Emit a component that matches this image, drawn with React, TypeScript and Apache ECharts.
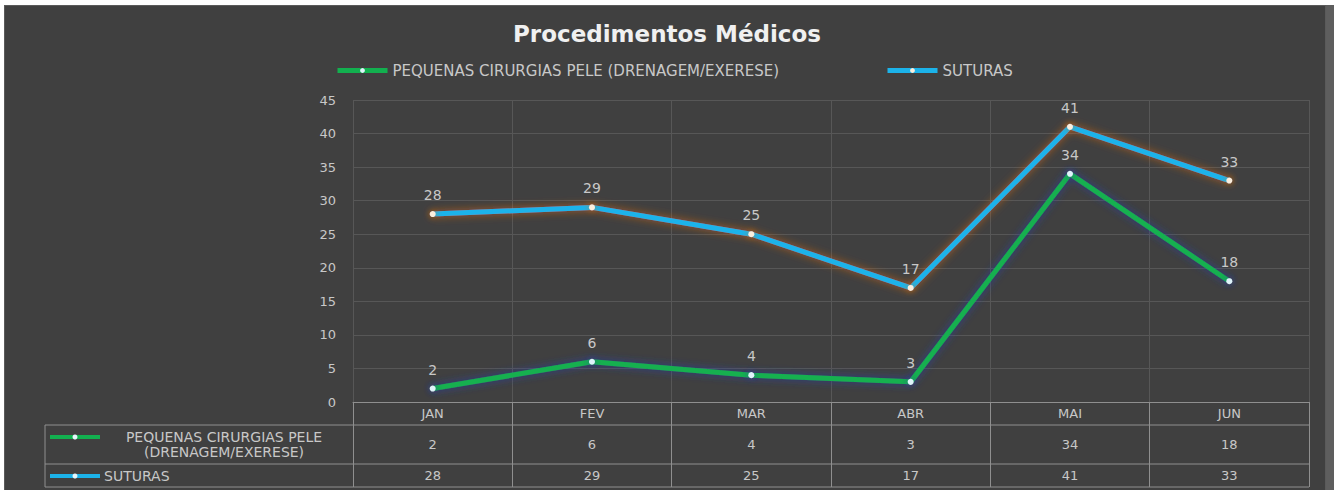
import React, { useEffect, useRef } from "react";
import * as echarts from "echarts";

const categories = ["JAN", "FEV", "MAR", "ABR", "MAI", "JUN"];
const seriesNames = ["PEQUENAS CIRURGIAS PELE (DRENAGEM/EXERESE)", "SUTURAS"];
const pequenas = [2, 6, 4, 3, 34, 18];
const suturas = [28, 29, 25, 17, 41, 33];
const yMin = 0;
const yMax = 45;
const yStep = 5;

const GREEN = "#12b04f";
const BLUE = "#1cb3ea";
const FONT = "DejaVu Sans";
const TXT = "#c8c8c8";
const GRIDC = "#575757";
const TABLEC = "#8f8f8f";

export default function App() {
  const ref = useRef<HTMLDivElement>(null);
  useEffect(() => {
    document.body.style.margin = "0";
    const chart = echarts.init(ref.current as HTMLDivElement, null, { renderer: "svg" });
    const gridLeft = 353;
    const gridRight = 1309;
    const tableLeft = 45;
    const yAxisBottom = 402;
    const row1 = 425;
    const row2 = 464;
    const row3 = 487;
    const rowLabel1 = seriesNames[0].replace(" (", "\n(");
    const hline = (y: number) => ({
      type: "line",
      z: 100,
      shape: { x1: tableLeft, y1: y, x2: gridRight, y2: y },
      style: { stroke: TABLEC, lineWidth: 1 },
    });
    const key = (y: number, color: string) => [
      {
        type: "line",
        z: 100,
        shape: { x1: 50, y1: y, x2: 100, y2: y },
        style: { stroke: color, lineWidth: 4 },
      },
      {
        type: "circle",
        z: 101,
        shape: { cx: 75, cy: y, r: 2.5 },
        style: { fill: "#e6f6fb" },
      },
    ];
    const legendBase = {
      top: 58,
      itemWidth: 50,
      itemHeight: 6,
      lineStyle: { width: 5 },
      textStyle: { color: TXT, fontSize: 15, fontFamily: FONT },
    };
    const option: any = {
      animation: false,
      backgroundColor: "transparent",
      title: {
        text: "Procedimentos Médicos",
        left: "center",
        top: 17,
        textStyle: { color: "#f0f0f0", fontSize: 23, fontWeight: "bold", fontFamily: FONT },
      },
      legend: [
        { ...legendBase, data: [seriesNames[0]], left: 330 },
        { ...legendBase, data: [seriesNames[1]], left: 880 },
      ],
      grid: { left: gridLeft, right: 1334 - gridRight, top: 100, bottom: 490 - yAxisBottom },
      xAxis: [
        {
          type: "category",
          data: categories,
          position: "bottom",
          boundaryGap: true,
          axisLine: { lineStyle: { color: TABLEC, width: 1 } },
          axisTick: { show: true, interval: 0, length: row3 - yAxisBottom, lineStyle: { color: TABLEC } },
          axisLabel: { interval: 0, color: TXT, fontSize: 13, fontFamily: FONT, margin: 5 },
          splitLine: { show: true, interval: 0, lineStyle: { color: GRIDC } },
        },
        {
          type: "category",
          data: pequenas.map(String),
          position: "bottom",
          axisLine: { show: false },
          axisTick: { show: false },
          axisLabel: { interval: 0, color: TXT, fontSize: 13, fontFamily: FONT, margin: 36 },
          splitLine: { show: false },
        },
        {
          type: "category",
          data: suturas.map(String),
          position: "bottom",
          axisLine: { show: false },
          axisTick: { show: false },
          axisLabel: { interval: 0, color: TXT, fontSize: 13, fontFamily: FONT, margin: 67 },
          splitLine: { show: false },
        },
      ],
      yAxis: {
        type: "value",
        min: yMin,
        max: yMax,
        interval: yStep,
        axisLine: { show: false },
        axisTick: { show: false },
        axisLabel: { color: TXT, fontSize: 13, fontFamily: FONT, margin: 17 },
        splitLine: { lineStyle: { color: GRIDC } },
      },
      series: [
        {
          name: seriesNames[0],
          type: "line",
          data: pequenas,
          xAxisIndex: 0,
          symbol: "circle",
          symbolSize: 6,
          lineStyle: { color: GREEN, width: 5, shadowBlur: 8, shadowColor: "rgba(40,60,170,0.8)" },
          itemStyle: { color: "#dff4fb", shadowBlur: 6, shadowColor: "rgba(40,60,170,0.9)" },
          label: { show: true, position: "top", distance: 9, color: TXT, fontSize: 14, fontFamily: FONT },
        },
        {
          name: seriesNames[1],
          type: "line",
          data: suturas,
          xAxisIndex: 0,
          symbol: "circle",
          symbolSize: 6,
          lineStyle: { color: BLUE, width: 5, shadowBlur: 8, shadowColor: "rgba(210,100,20,0.8)" },
          itemStyle: { color: "#fbeedd", shadowBlur: 6, shadowColor: "rgba(220,110,20,0.9)" },
          label: { show: true, position: "top", distance: 9, color: TXT, fontSize: 14, fontFamily: FONT },
        },
      ],
      graphic: [
        hline(row1),
        hline(row2),
        hline(row3),
        {
          type: "line",
          z: 100,
          shape: { x1: tableLeft, y1: row1, x2: tableLeft, y2: row3 },
          style: { stroke: TABLEC, lineWidth: 1 },
        },
        ...key(437, GREEN),
        ...key(476, BLUE),
        {
          type: "text",
          z: 100,
          x: 224,
          y: 444,
          style: {
            text: rowLabel1,
            fill: TXT,
            fontSize: 14,
            fontFamily: FONT,
            align: "center",
            verticalAlign: "middle",
            lineHeight: 15,
          },
        },
        {
          type: "text",
          z: 100,
          x: 104,
          y: 476,
          style: {
            text: seriesNames[1],
            fill: TXT,
            fontSize: 14,
            fontFamily: FONT,
            align: "left",
            verticalAlign: "middle",
          },
        },
      ],
    };
    chart.setOption(option);
    return () => chart.dispose();
  }, []);
  return (
    <div style={{ position: "relative", width: 1334, height: 490, background: "#ffffff" }}>
      <div
        style={{
          position: "absolute",
          left: 1326,
          top: 5,
          width: 8,
          height: 485,
          background: "#5e5e5e",
        }}
      />
      <div
        style={{
          position: "absolute",
          left: 4,
          top: 5,
          width: 1320,
          height: 485,
          background: "#404040",
          border: "1px solid #5a5a5a",
          borderBottom: "none",
        }}
      />
      <div ref={ref} style={{ position: "absolute", left: 0, top: 0, width: 1334, height: 490 }} />
    </div>
  );
}
